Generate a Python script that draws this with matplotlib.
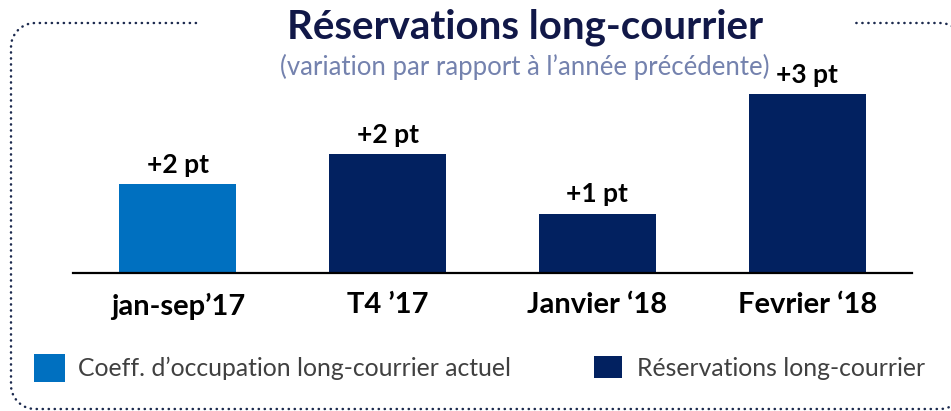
import numpy as np
import matplotlib.pyplot as plt
from matplotlib.lines import Line2D
from matplotlib.patches import Rectangle

plt.rcParams['font.family'] = ['Lato', 'DejaVu Sans']

# long-haul bookings, change vs previous year (pt)
categories = ["jan-sep\u201917", "T4 \u201917", "Janvier \u201818", "Fevrier \u201818"]
values = [1.5, 2.0, 1.0, 3.0]
series = ["Coeff. d\u2019occupation long-courrier actuel", "R\u00e9servations long-courrier"]
bar_series = [0, 1, 1, 1]

colors = ["#0070C0", "#022160"]
navy_title = "#111848"

W, H = 951, 411
fig = plt.figure(figsize=(W / 100, H / 100), dpi=100)

def fx(px):
    return px / W

def fy(py):
    return 1 - py / H

def arc(cx, cy, r, a0, a1):
    t = np.radians(np.linspace(a0, a1, 12))
    return list(zip(cx + r * np.cos(t), cy - r * np.sin(t)))

# dotted rounded frame, open under the title
r = 24
left, right, top, bottom = 11, 964, 23, 409
pts = [(196, top), (left + r, top)]
pts += arc(left + r, top + r, r, 90, 180)
pts += [(left, bottom - r)]
pts += arc(left + r, bottom - r, r, 180, 270)
pts += [(right - r, bottom)]
pts += arc(right - r, bottom - r, r, 270, 360)
pts += [(right, top + r)]
pts += arc(right - r, top + r, r, 0, 90)
pts += [(855, top)]
px_, py_ = zip(*pts)
fig.add_artist(Line2D([fx(p) for p in px_], [fy(p) for p in py_],
                      transform=fig.transFigure, color="#1C2A4E", linewidth=1.8,
                      linestyle=(0, (0.1, 2.3)), dash_capstyle="round"))

fig.text(0.552, fy(27), "R\u00e9servations long-courrier", ha="center", va="center",
         fontsize=29, fontweight="bold", color=navy_title)
fig.text(0.552, fy(67), "(variation par rapport \u00e0 l\u2019ann\u00e9e pr\u00e9c\u00e9dente)",
         ha="center", va="center", fontsize=18.5, color="#7482AE")

ax = fig.add_axes([fx(73), fy(273), fx(912) - fx(73), fy(60) - fy(273)])
x = range(len(categories))
bars = ax.bar(x, values, width=0.557, color=[colors[s] for s in bar_series], zorder=2)
ax.set_xlim(-0.5, 3.5)
ax.set_ylim(0, 213 / 59.5)

for b, v in zip(bars, values):
    ax.annotate(f"+{v:.0f} pt", (b.get_x() + b.get_width() / 2, v),
                xytext=(0, 8), textcoords="offset points", ha="center", va="baseline",
                fontsize=19, fontweight="bold", color="black")

for s in ["top", "right", "left"]:
    ax.spines[s].set_visible(False)
ax.spines["bottom"].set_linewidth(1.6)
ax.set_yticks([])
ax.set_xticks(list(x))
ax.set_xticklabels(categories, fontsize=21, fontweight="bold")
ax.tick_params(axis="x", length=0, pad=14)

# legend
leg = [((34, 354, 31, 28), 78), ((594, 356, 28, 22), 637)]
for ((sx, sy, sw, sh), tx), c, name in zip(leg, colors, series):
    fig.add_artist(Rectangle((fx(sx), fy(sy + sh)), fx(sw), sh / H,
                             transform=fig.transFigure, facecolor=c, edgecolor="none"))
    fig.text(fx(tx), fy(368), name, ha="left", va="center", fontsize=17.8, color="#404040")

fig.savefig("out.png", dpi=100)
